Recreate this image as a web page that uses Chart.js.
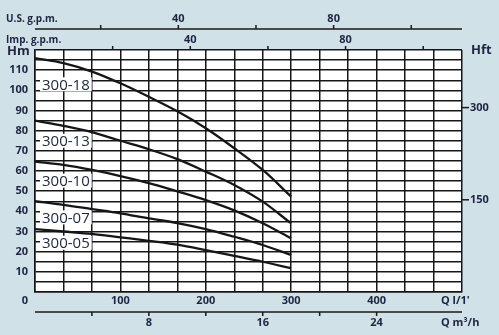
<!DOCTYPE html>
<html>
<head>
<meta charset="utf-8">
<script src="https://cdn.jsdelivr.net/npm/chart.js@4"></script>
<style>
  html, body { margin: 0; padding: 0; background: #d0e1e7; }
  #chart { display: block; }
</style>
</head>
<body>
<canvas id="chart" width="499" height="335"></canvas>
<script>
'use strict';
// flow in l/min where the curves were read
let flowLmin = [0, 33.3, 66.7, 100, 133.3, 166.7, 200, 233.3, 266.7, 300];

// head in m for each pump
let pumpNames = ['300-18', '300-13', '300-10', '300-07', '300-05'];
let head18 = [116, 113.5, 109.3, 103.5, 96.8, 89.6, 81.2, 71.3, 60.5, 47.3];
let head13 = [85, 82.4, 79.3, 75, 70.8, 65.9, 59.7, 53.1, 44.8, 34];
let head10 = [64.7, 63, 60.5, 57.5, 54, 49.9, 45.6, 40.5, 34.1, 26.6];
let head07 = [45, 43.2, 41.1, 39, 36.5, 34.2, 31.2, 27.4, 23.3, 18.3];
let head05 = [31.2, 30, 28.8, 27.1, 25.4, 23.5, 20.8, 17.9, 15, 11.8];
let heads = [head18, head13, head10, head07, head05];
// head (m) where each pump name sits
let nameHeads = [103, 75, 55.2, 37, 24.4];

// tick labels
let hmTicks = [10, 20, 30, 40, 50, 60, 70, 80, 90, 100, 110];
let lminTicks = [0, 100, 200, 300, 400];
let m3hTicks = [4, 8, 12, 16, 20, 24];
let m3hLabels = [8, 16, 24];
let gpmTicks = [20, 40, 60, 80, 100];
let gpmLabels = [40, 80];
let hftTicks = [150, 300];

let ink = '#1d2540';
let font = '"Open Sans", "Noto Sans", sans-serif';

let datasets = heads.map(function (h, i) {
    return {
        label: pumpNames[i],
        data: flowLmin.map(function (q, j) { return { x: q, y: h[j] }; }),
        borderColor: '#161616',
        borderWidth: 2.3,
        pointRadius: 0,
        fill: false,
        cubicInterpolationMode: 'monotone'
    };
});

let textPlugin = {
    id: 'textPlugin',
    beforeDraw: function (chart) {
        let a = chart.chartArea;
        let c = chart.ctx;
        c.save();
        c.fillStyle = '#fff';
        c.fillRect(a.left, a.top, a.right - a.left, a.bottom - a.top);
        c.restore();
    },
    afterDraw: function (chart) {
        let a = chart.chartArea;
        let c = chart.ctx;
        let xs = chart.scales.x;
        let ys = chart.scales.y;
        c.save();
        c.fillStyle = ink;
        c.strokeStyle = '#1a1a1a';
        c.lineWidth = 1.5;
        c.textBaseline = 'middle';

        // left head axis
        c.font = 'bold 11px ' + font;
        c.textAlign = 'right';
        hmTicks.forEach(function (v) {
            c.fillText(v, a.left - 7, ys.getPixelForValue(v));
        });
        c.textAlign = 'left';
        c.font = 'bold 13px ' + font;
        c.fillText('Hm', 7, a.top + 1);
        c.fillText('Hft', a.right + 9, a.top);

        // right feet ticks
        c.font = 'bold 11px ' + font;
        hftTicks.forEach(function (ft) {
            let y = ys.getPixelForValue(ft * 0.3048);
            c.beginPath();
            c.moveTo(a.right, y);
            c.lineTo(a.right + 7, y);
            c.stroke();
            c.fillText(ft, a.right + 8, y);
        });

        // bottom l/min labels
        c.textAlign = 'center';
        lminTicks.forEach(function (v) {
            let x = xs.getPixelForValue(v);
            if (v === 0) x -= 10;
            c.fillText(v, x, a.bottom + 9);
        });
        c.textAlign = 'left';
        c.fillText("Q l/1'", a.right - 21, a.bottom + 9);

        // m3/h axis
        let yM = a.bottom + 20;
        c.beginPath();
        c.moveTo(a.left, yM);
        c.lineTo(a.right, yM);
        m3hTicks.forEach(function (m) {
            let x = xs.getPixelForValue(m * 1000 / 60);
            c.moveTo(x, yM);
            c.lineTo(x, yM + 4);
        });
        c.stroke();
        c.textAlign = 'center';
        m3hLabels.forEach(function (m) {
            c.fillText(m, xs.getPixelForValue(m * 1000 / 60), a.bottom + 31);
        });
        c.textAlign = 'left';
        c.fillText('Q m\u00b3/h', a.right - 21, a.bottom + 31);

        // U.S. g.p.m. axis (placed as printed on the sheet)
        let yUs = a.top - 21;
        c.beginPath();
        c.moveTo(a.left, yUs);
        c.lineTo(a.right, yUs);
        gpmTicks.forEach(function (g) {
            let x = xs.getPixelForValue(g * 4.546 - 14);
            c.moveTo(x, yUs);
            c.lineTo(x, yUs - 4);
        });
        c.stroke();
        c.textAlign = 'center';
        gpmLabels.forEach(function (g) {
            c.fillText(g, xs.getPixelForValue(g * 4.546 - 14), yUs - 10);
        });

        // Imp. g.p.m. ticks on top border
        c.beginPath();
        gpmTicks.forEach(function (g) {
            let x = xs.getPixelForValue(g * 4.546);
            c.moveTo(x, a.top);
            c.lineTo(x, a.top - 4);
        });
        c.stroke();
        gpmLabels.forEach(function (g) {
            c.fillText(g, xs.getPixelForValue(g * 4.546), a.top - 10);
        });
        c.textAlign = 'left';
        c.font = 'bold 10px ' + font;
        c.fillText('U.S. g.p.m.', 6, yUs - 10);
        c.fillText('Imp. g.p.m.', 6, a.top - 10);

        // pump names
        c.font = '15px ' + font;
        pumpNames.forEach(function (name, i) {
            let y = ys.getPixelForValue(nameHeads[i]);
            let x = a.left + 7;
            let w = c.measureText(name).width;
            c.fillStyle = '#fff';
            c.fillRect(x - 2, y - 7, w + 4, 14);
            c.fillStyle = ink;
            c.fillText(name, x, y + 1);
        });
        c.restore();
    }
};

let gridStyle = { color: '#161616', lineWidth: 1.5, drawTicks: false };

let ctx = document.getElementById('chart').getContext('2d');
let myChart = new Chart(ctx, {
    type: 'line',
    data: { datasets: datasets },
    options: {
        responsive: false,
        animation: false,
        layout: { padding: { top: 50, right: 37, left: 0, bottom: 0 } },
        plugins: {
            legend: { display: false },
            tooltip: { enabled: false }
        },
        scales: {
            x: {
                type: 'linear',
                min: 0,
                max: 500,
                ticks: { display: false },
                grid: gridStyle,
                border: { color: '#161616', width: 1.5 },
                afterBuildTicks: function (s) {
                    s.ticks = [];
                    for (let i = 0; i <= 15; i++) s.ticks.push({ value: i * 100 / 3 });
                },
                afterFit: function (s) { s.height = 43; }
            },
            y: {
                min: 0,
                max: 120,
                ticks: { display: false, stepSize: 5 },
                grid: gridStyle,
                border: { color: '#161616', width: 1.5 },
                afterFit: function (s) { s.width = 35; }
            }
        }
    },
    plugins: [textPlugin]
});
</script>
</body>
</html>
